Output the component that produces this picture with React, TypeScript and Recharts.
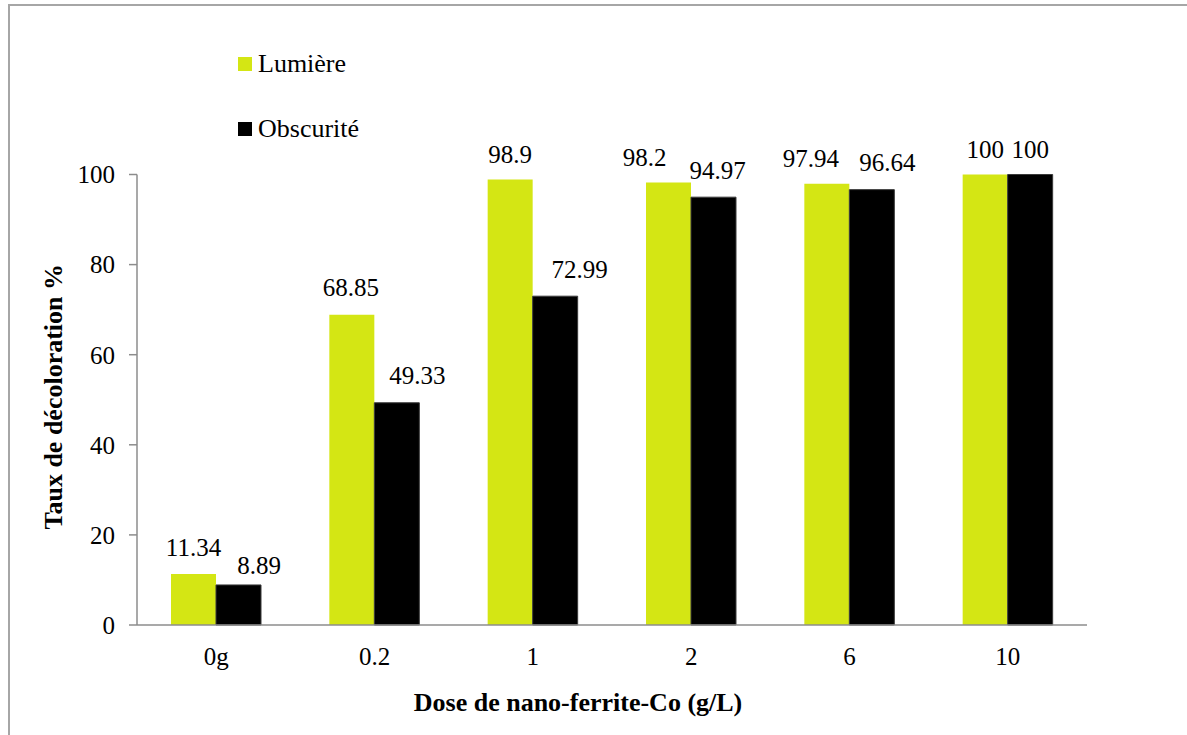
import { BarChart, Bar, XAxis, YAxis, Legend, LabelList, Label } from 'recharts';

// Dose categories and decolouration rates (%)
const doses = ['0g', '0.2', '1', '2', '6', '10'];
const lumiere = [11.34, 68.85, 98.9, 98.2, 97.94, 100];
const obscurite = [8.89, 49.33, 72.99, 94.97, 96.64, 100];
const yTicks = [0, 20, 40, 60, 80, 100];

const data = doses.map((dose, i) => ({ dose, lumiere: lumiere[i], obscurite: obscurite[i] }));

// hand-placed value labels: [dx, baseline gap above bar]
const LUM_NUDGE: [number, number][] = [[0, 17.5], [-1, 19], [0, 16.5], [-24, 17], [-16, 17], [0, 16.5]];
const OBS_NUDGE: [number, number][] = [[20.5, 10.5], [20.5, 19], [24.5, 18], [4, 18], [15.5, 19], [0, 16.5]];

const SERIF = "'Liberation Serif', 'Times New Roman', Times, serif";

const C = {
  lum: '#D4E614',
  obs: '#000000',
  obsEdge: '#3a3a3a',
  axis: '#8C8C8C',
  frame: '#A6A6A6',
};

const txt = { fontFamily: SERIF };

const valueLabel = (nudge: [number, number][]) => (p: any) => {
  const [dx, gap] = nudge[p.index] ?? [0, 18];
  return (
    <text x={p.x + p.width / 2 + dx} y={p.y - gap} textAnchor="middle"
      style={txt} fontSize={25} fill="#000">
      {p.value}
    </text>
  );
};

const YTitle = ({ viewBox }: any) => {
  const cx = viewBox.x + 62;
  const cy = viewBox.y + viewBox.height / 2 - 3;
  return (
    <text x={cx} y={cy} transform={`rotate(-90 ${cx} ${cy})`} textAnchor="middle"
      style={txt} fontSize={26} fontWeight="bold" fill="#000">
      Taux de décoloration %
    </text>
  );
};

const XTitle = ({ viewBox }: any) => (
  <text x={viewBox.x + viewBox.width / 2 - 34} y={viewBox.y + 86} textAnchor="middle"
    style={txt} fontSize={26} fontWeight="bold" fill="#000">
    Dose de nano-ferrite-Co (g/L)
  </text>
);

const LegendBox = () => (
  <div style={{ fontFamily: SERIF, fontSize: 26, color: '#000' }}>
    {[
      { name: 'Lumière', color: C.lum },
      { name: 'Obscurité', color: C.obs },
    ].map((s, i) => (
      <div key={s.name} style={{ display: 'flex', alignItems: 'center', height: 26, lineHeight: '26px', marginBottom: i === 0 ? 39 : 0 }}>
        <span style={{ width: 14, height: 14, background: s.color, marginRight: 6, display: 'inline-block' }} />
        <span>{s.name}</span>
      </div>
    ))}
  </div>
);

export default function App() {
  return (
    <div style={{ position: 'fixed', left: 0, top: 0, width: 1187, height: 735, overflow: 'hidden', background: '#fff', fontFamily: SERIF }}>
      <div style={{ position: 'absolute', left: 8, top: 4, width: 1220, height: 800, border: `2px solid ${C.frame}`, boxSizing: 'border-box' }} />
      <div style={{ position: 'absolute', left: 0, top: 0 }}>
        <BarChart width={1187} height={735} data={data}
          margin={{ top: 174.5, right: 100, bottom: 0, left: 0 }}
          barCategoryGap={34} barGap={0}>
          <XAxis dataKey="dose" height={110} tickLine={false} tickSize={0} tickMargin={22}
            axisLine={{ stroke: C.axis, strokeWidth: 1.5 }}
            tick={{ fill: '#000', fontSize: 25, style: txt }}>
            <Label content={<XTitle />} />
          </XAxis>
          <YAxis width={137} domain={[0, 100]} ticks={yTicks} tickSize={8} tickMargin={14}
            axisLine={{ stroke: C.axis, strokeWidth: 1.5 }}
            tickLine={{ stroke: C.axis, strokeWidth: 1.5 }}
            tick={{ fill: '#000', fontSize: 25, style: txt }}>
            <Label content={<YTitle />} />
          </YAxis>
          <Legend layout="vertical" align="center" verticalAlign="middle"
            content={<LegendBox />}
            wrapperStyle={{ top: 51, left: 238, width: 'auto' }} />
          <Bar dataKey="lumiere" name="Lumière" fill={C.lum} isAnimationActive={false}>
            <LabelList dataKey="lumiere" content={valueLabel(LUM_NUDGE)} />
          </Bar>
          <Bar dataKey="obscurite" name="Obscurité" fill={C.obs} stroke={C.obsEdge} strokeWidth={1} isAnimationActive={false}>
            <LabelList dataKey="obscurite" content={valueLabel(OBS_NUDGE)} />
          </Bar>
        </BarChart>
      </div>
    </div>
  );
}
